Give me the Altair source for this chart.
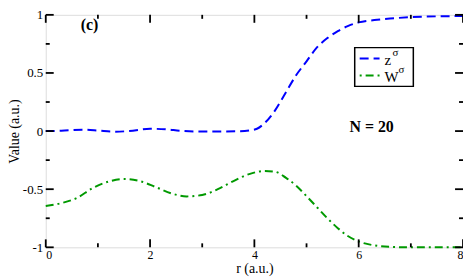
import altair as alt
import pandas as pd

# ---- data ----
z_r = [0.0, 0.3, 0.7, 1.0, 1.3, 1.6, 2.0, 2.3, 2.6, 2.9, 3.3, 3.7, 3.9, 4.05, 4.2, 4.4, 4.6,
       4.8, 5.0, 5.2, 5.4, 5.6, 5.8, 6.0, 6.3, 6.6, 7.0, 7.5, 8.0]
z_v = [0.0, 0.003, 0.012, 0.005, -0.005, 0.0, 0.02, 0.015, 0.002, -0.003, -0.003, -0.002,
       0.005, 0.02, 0.07, 0.18, 0.33, 0.48, 0.6, 0.72, 0.8, 0.86, 0.905, 0.935, 0.955,
       0.968, 0.98, 0.987, 0.99]
w_r = [0.0, 0.3, 0.6, 0.9, 1.2, 1.5, 1.8, 2.1, 2.4, 2.7, 3.0, 3.3, 3.6, 3.9, 4.2, 4.4, 4.6,
       4.8, 5.0, 5.2, 5.4, 5.6, 5.8, 6.0, 6.2, 6.4, 6.7, 7.0, 8.0]
w_v = [-0.645, -0.62, -0.575, -0.49, -0.435, -0.412, -0.43, -0.48, -0.535, -0.562, -0.55,
       -0.5, -0.43, -0.37, -0.343, -0.35, -0.4, -0.47, -0.56, -0.655, -0.75, -0.835,
       -0.905, -0.95, -0.975, -0.99, -0.998, -1.0, -1.0]

x_major = [0, 2, 4, 6, 8]
x_minor = [1, 3, 5, 7]
y_major = [-1, -0.5, 0, 0.5, 1]
y_minor = [-0.75, -0.25, 0.25, 0.75]

W, H = 420, 234
FONT = "Liberation Serif"

xs = alt.Scale(domain=[0, 8], nice=False, zero=False)
ys = alt.Scale(domain=[-1, 1], nice=False, zero=False)

zdf = pd.DataFrame({"r": z_r, "v": z_v})
wdf = pd.DataFrame({"r": w_r, "v": w_v})

xax = alt.Axis(values=x_major, ticks=False, domain=False, grid=False, labelFont=FONT,
               labelFontSize=12, labelColor="black", labelPadding=2, title="r (a.u.)",
               titleFont=FONT, titleFontSize=14, titleFontWeight="normal",
               titleColor="black", titleX=W / 2, titleY=21, titleAlign="center",
               titleBaseline="middle", labelExpr="toString(datum.value)")
yax = alt.Axis(values=y_major, ticks=False, domain=False, grid=False, labelFont=FONT,
               labelFontSize=13, labelColor="black", labelPadding=3, title="Value (a.u.)",
               titleFont=FONT, titleFontSize=14, titleFontWeight="normal",
               titleColor="black", titleX=-31, titleY=H / 2, titleAngle=270,
               titleAlign="center", titleBaseline="middle",
               labelExpr="toString(datum.value)")

zline = alt.Chart(zdf).mark_line(color="#0000ff", strokeWidth=2, strokeDash=[9, 5],
                                 interpolate="monotone").encode(
    x=alt.X("r:Q", scale=xs, axis=xax), y=alt.Y("v:Q", scale=ys, axis=yax))
wline = alt.Chart(wdf).mark_line(color="#009900", strokeWidth=2, strokeDash=[8, 4, 2, 4],
                                 interpolate="monotone").encode(
    x=alt.X("r:Q", scale=xs), y=alt.Y("v:Q", scale=ys))

# inward ticks on all four sides
def xticks(vals, length):
    d = pd.DataFrame({"t": vals})
    bot = alt.Chart(d).mark_rule(color="black", strokeWidth=1.8).encode(
        x=alt.X("t:Q", scale=xs), y=alt.value(H), y2=alt.value(H - length))
    top = alt.Chart(d).mark_rule(color="black", strokeWidth=1.8).encode(
        x=alt.X("t:Q", scale=xs), y=alt.value(0), y2=alt.value(length))
    return bot + top

def yticks(vals, length):
    d = pd.DataFrame({"t": vals})
    left = alt.Chart(d).mark_rule(color="black", strokeWidth=1.8).encode(
        y=alt.Y("t:Q", scale=ys), x=alt.value(0), x2=alt.value(length))
    right = alt.Chart(d).mark_rule(color="black", strokeWidth=1.8).encode(
        y=alt.Y("t:Q", scale=ys), x=alt.value(W), x2=alt.value(W - length))
    return left + right

ticks = xticks(x_major, 8) + xticks(x_minor, 4) + yticks(y_major, 8) + yticks(y_minor, 4)

# annotations
ann = pd.DataFrame({"a": [0]})
label_c = alt.Chart(ann).mark_text(text="(c)", font=FONT, fontSize=16, fontWeight="bold",
                                   color="black").encode(x=alt.value(44), y=alt.value(10))
label_n = alt.Chart(ann).mark_text(text="N = 20", font=FONT, fontSize=16, fontWeight="bold",
                                   color="black").encode(x=alt.value(328), y=alt.value(113))

# custom legend
box = alt.Chart(ann).mark_rect(fill="white", stroke="black", strokeWidth=1.5).encode(
    x=alt.value(311), x2=alt.value(370), y=alt.value(33), y2=alt.value(72))
lz = alt.Chart(ann).mark_rule(color="#0000ff", strokeWidth=2, strokeDash=[9, 5]).encode(
    x=alt.value(316), x2=alt.value(336), y=alt.value(44))
lw = alt.Chart(ann).mark_rule(color="#009900", strokeWidth=2, strokeDash=[2, 4, 8, 4]).encode(
    x=alt.value(316), x2=alt.value(336), y=alt.value(61))
tz = alt.Chart(ann).mark_text(text="z", font=FONT, fontSize=15, align="left",
                              color="black").encode(x=alt.value(341), y=alt.value(45))
sz = alt.Chart(ann).mark_text(text="σ", font=FONT, fontSize=11, align="left",
                              color="black").encode(x=alt.value(349), y=alt.value(38))
tw = alt.Chart(ann).mark_text(text="W", font=FONT, fontSize=15, align="left",
                              color="black").encode(x=alt.value(341), y=alt.value(63))
sw = alt.Chart(ann).mark_text(text="σ", font=FONT, fontSize=11, align="left",
                              color="black").encode(x=alt.value(355), y=alt.value(56))

chart = alt.layer(zline, wline, ticks, label_c, label_n, box, lz, lw, tz, sz, tw, sw).properties(
    width=W, height=H,
    autosize=alt.AutoSizeParams(type="none"),
    padding={"left": 38, "top": 6, "right": 0, "bottom": 29},
).configure_view(stroke="black", strokeWidth=2).configure(background="white")

chart.save("out.html", embed_options={"renderer": "svg", "actions": False})
